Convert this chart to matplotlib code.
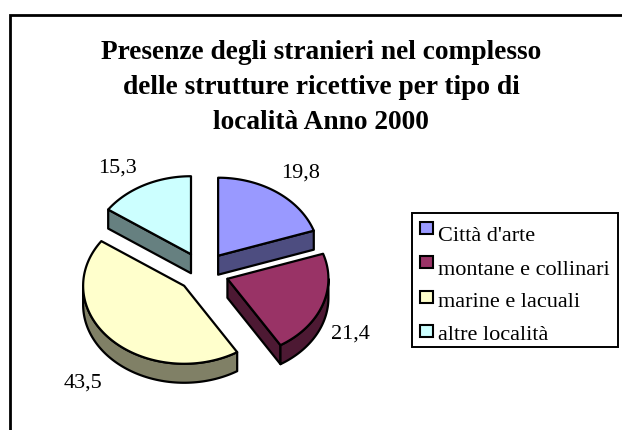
import numpy as np
import matplotlib
matplotlib.use("Agg")
import matplotlib.pyplot as plt
from matplotlib.patches import Polygon, Rectangle

title = "Presenze degli stranieri nel complesso\ndelle strutture ricettive per tipo di\nlocalità Anno 2000"
categories = ["Città d'arte", "montane e collinari", "marine e lacuali", "altre località"]
values = [19.8, 21.4, 43.5, 15.3]
value_labels = ["19,8", "21,4", "43,5", "15,3"]
colors = ["#9999ff", "#993366", "#ffffcc", "#ccffff"]
side_colors = ["#4d4d80", "#4d1933", "#808066", "#668080"]

# posizione delle etichette (x, linea di base) in pixel
label_pos = [(281, 178), (331, 339), (64, 388), (98, 173)]

CX, CY = 203, 272
RX, RY = 101, 78
DEPTH = 19
EXPLODE = 0.257

plt.rcParams['font.family'] = ['Liberation Serif', 'DejaVu Serif']

fig = plt.figure(figsize=(6.22, 4.30), dpi=100)
ax = fig.add_axes([0, 0, 1, 1])
ax.set_xlim(0, 622)
ax.set_ylim(430, 0)
ax.axis('off')

# cornice esterna
ax.plot([10, 10, 622], [430, 15, 15], color='black', lw=2.0, solid_joinstyle='miter', clip_on=False)


def ell(cx, cy, a):
    return np.column_stack([cx + RX * np.sin(a), cy - RY * np.cos(a)])


def draw_slice(start, end, col, side):
    mid = (start + end) / 2
    cx = CX + EXPLODE * RX * np.sin(mid)
    cy = CY - EXPLODE * RY * np.cos(mid)
    down = np.array([0, DEPTH])
    apex = np.array([[cx, cy]])

    # pareti radiali visibili
    for a, visible in ((start, np.sin(start) < -1e-6), (end, np.sin(end) > 1e-6)):
        if visible:
            p = ell(cx, cy, np.array([a]))
            wall = np.vstack([apex, p, p + down, apex + down])
            ax.add_patch(Polygon(wall, closed=True, fc=side, ec='black', lw=1.6, joinstyle='round'))

    # bordo esterno, solo la parte davanti
    lo, hi = max(start, np.pi / 2), min(end, 3 * np.pi / 2)
    if hi > lo:
        rim = ell(cx, cy, np.linspace(lo, hi, 80))
        ax.add_patch(Polygon(np.vstack([rim, rim[::-1] + down]), closed=True, fc=side, ec='black', lw=1.6, joinstyle='round'))

    # faccia superiore
    arc = ell(cx, cy, np.linspace(start, end, 120))
    ax.add_patch(Polygon(np.vstack([apex, arc]), closed=True, fc=col, ec='black', lw=1.6, joinstyle='round'))


edges = np.concatenate([[0], np.cumsum(values)]) / sum(values) * 2 * np.pi
for i in [3, 0, 1, 2]:
    draw_slice(edges[i], edges[i + 1], colors[i], side_colors[i])

for txt, (x, y) in zip(value_labels, label_pos):
    ax.text(x, y, txt, fontsize=16, ha='left', va='baseline', color='black')

for line, y in zip(title.split("\n"), [59, 94, 129]):
    ax.text(321, y, line, fontsize=19.7, fontweight='bold', ha='center', va='baseline', color='black')

# legenda
ax.add_patch(Rectangle((412, 213), 206, 134, fc='white', ec='black', lw=1.4))
swatch_y = [228, 262, 297, 331]
text_y = [241, 275, 307, 340]
for i, cat in enumerate(categories):
    ax.add_patch(Rectangle((420, swatch_y[i] - 6), 13, 12, fc=colors[i], ec='black', lw=1.5))
    ax.text(438, text_y[i], cat, fontsize=16, ha='left', va='baseline', color='black')

fig.savefig("out.png", dpi=100)
